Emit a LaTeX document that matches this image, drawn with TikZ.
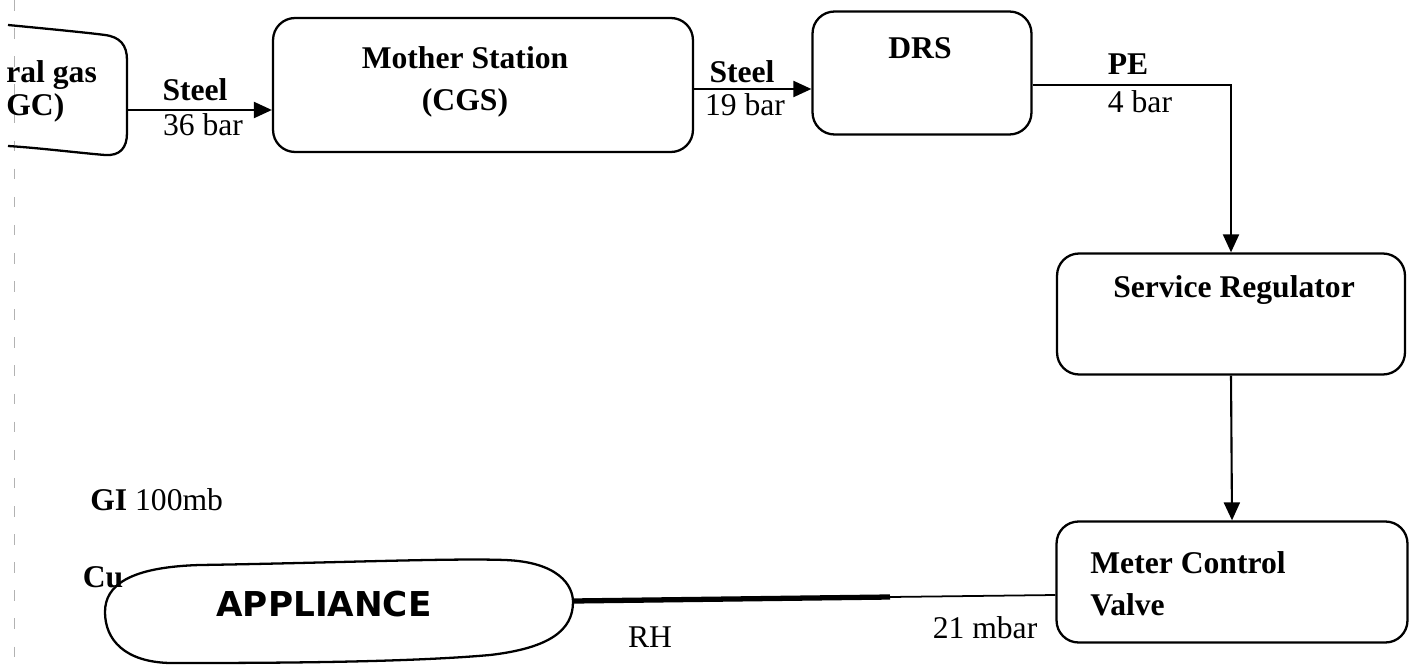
\documentclass[tikz,border=0pt]{standalone}
\usepackage{fontspec}
\setmainfont{Liberation Serif}
\newfontfamily\appfont{DejaVu Sans}
\usetikzlibrary{arrows.meta,calc}
\tikzset{
  blk/.style={draw, line width=1.3pt, rounded corners=0.44cm, inner sep=0pt},
  arr/.style={line width=1.2pt, -{Triangle[length=3.6mm,width=3.2mm]}},
  pipe/.style={line width=1pt},
  fatpipe/.style={line width=3pt},
  lbl/.style={font=\fontsize{18}{24}\selectfont, inner sep=0pt},
  blbl/.style={font=\fontsize{18}{24}\selectfont\bfseries, inner sep=0pt},
}
\begin{document}
\begin{tikzpicture}[x=0.02cm,y=-0.02cm]
\useasboundingbox (0,0) rectangle (1412,665);
% page margin trace
\draw[gray!60, line width=0.5pt, dash pattern=on 6pt off 10pt] (14,0) -- (14,665);
% partial natural gas box
\draw[line width=1.3pt] (8,25) .. controls (60,30) and (90,33) .. (105,35)
  .. controls (120,37) and (127,45) .. (127,60) -- (127,133)
  .. controls (127,148) and (120,156) .. (105,155)
  .. controls (80,153) and (40,148) .. (8,146);
\coordinate (ng) at (127,110);
\node[blbl, anchor=west] (ngt1) at (6,75) {ral gas};
\node[blbl, anchor=west] (ngt2) at (6,108) {GC)};
% boxes
\node[blk, minimum width=8.4cm, minimum height=2.68cm] (ms) at (483,85) {};
\node[blbl, align=center] (mst) at (465,82) {Mother Station\\(CGS)};
\node[blk, minimum width=4.38cm, minimum height=2.46cm] (drs) at (922,73) {};
\node[blbl] (drst) at (920,48) {DRS};
\node[blk, minimum width=6.96cm, minimum height=2.42cm] (sr) at (1231,314) {};
\node[blbl] (srt) at (1234,290) {Service Regulator};
\node[blk, minimum width=7.02cm, minimum height=2.42cm] (mcv) at (1232,582) {};
\node[blbl, align=left, anchor=west] (mcvt) at (1090,584) {Meter Control\\Valve};
% appliance
\draw[line width=1.3pt] (105,612) .. controls (105,585) and (130,567) .. (200,565)
  .. controls (330,563) and (450,558) .. (505,560)
  .. controls (558,562) and (573,585) .. (573,602)
  .. controls (573,630) and (550,648) .. (490,655)
  .. controls (400,663) and (250,663) .. (170,663)
  .. controls (125,662) and (105,640) .. (105,612) -- cycle;
\node[font=\appfont\fontsize{19.5}{24}\selectfont\bfseries, inner sep=0pt] (app) at (324,604) {APPLIANCE};
\coordinate (appE) at (573,601);
\coordinate (rh) at (890,597);
% connectors
\draw[arr] (ng) -- (ng -| ms.west);
\draw[arr] ($(ms.east)+(0,4)$) -- ($(ms.east -| drs.west)+(0,4)$);
\draw[arr] ($(drs.east)+(0,12)$) -| (sr.north);
\draw[arr] (sr.south) -- (mcv.north);
\draw[pipe] ($(mcv.west)+(0,13)$) -- (rh);
\draw[fatpipe] (rh) -- (appE);
% labels
\node[blbl] (l1) at (195,90) {Steel};
\node[lbl] (l2) at (203,125) {36 bar};
\node[blbl] (l3) at (742,72) {Steel};
\node[lbl] (l4) at (745,105) {19 bar};
\node[blbl] (l5) at (1128,64) {PE};
\node[lbl] (l6) at (1140,102) {4 bar};
\node[lbl] (l7) at (650,637) {RH};
\node[lbl] (l8) at (985,628) {21 mbar};
\node[lbl, anchor=west] (l9) at (90,500) {\textbf{GI} 100mb};
\node[blbl] (l10) at (103,577) {Cu};
\end{tikzpicture}
\end{document}
